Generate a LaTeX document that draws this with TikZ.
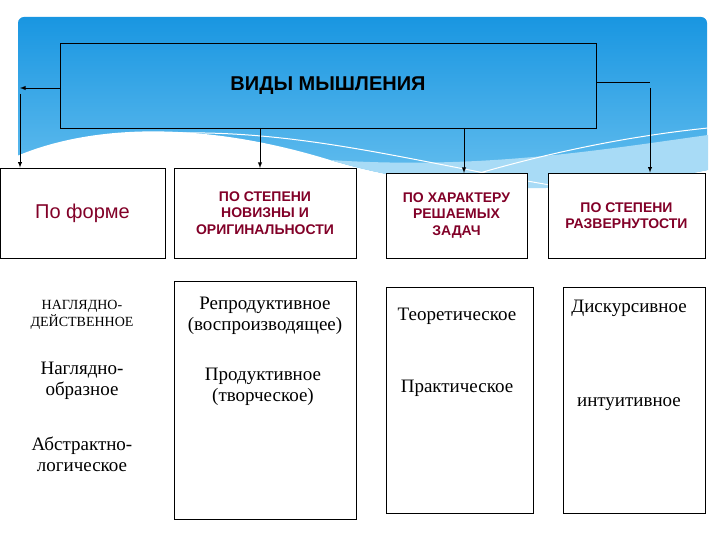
\documentclass[tikz,border=0pt]{standalone}
\usepackage{fontspec}
\setmainfont{Liberation Serif}
\newfontfamily\hsans{Liberation Sans}
\definecolor{skyA}{RGB}{25,150,225}
\definecolor{skyB}{RGB}{110,195,240}
\definecolor{dred}{RGB}{130,0,40}
\begin{document}
\begin{tikzpicture}[x=1pt,y=-1pt,
  box/.style={draw=black,line width=0.8pt,fill=white},
  head/.style={font=\hsans\bfseries\fontsize{14}{16.5}\selectfont,text=dred,align=center},
  lbl/.style={font=\fontsize{19}{21}\selectfont,align=center},
  arr/.style={-latex,line width=0.9pt}]
\useasboundingbox (0,0) rectangle (720,540);
\fill[white] (0,0) rectangle (720,540);
% blue banner
\shade[top color=skyA, bottom color=skyB, rounded corners=6pt]
  (18,205) -- (18,17) -- (707,17) -- (707,205) -- cycle;
\fill[white] (17,156) .. controls (90,125) and (200,120) .. (330,160)
  .. controls (430,190) and (560,200) .. (708,170) -- (708,206) -- (17,206) -- cycle;
\fill[skyB!60] (330,160) .. controls (430,190) and (560,200) .. (708,170) -- (708,135)
  .. controls (600,150) and (480,170) .. (330,160);
\draw[white,line width=1pt] (180,133) .. controls (350,130) and (500,190) .. (708,205);
\draw[white,line width=1pt] (440,185) .. controls (550,150) and (640,135) .. (708,128);
% title
\node[draw=black,line width=0.8pt,minimum width=536pt,minimum height=85pt,
  font=\hsans\bfseries\fontsize{20}{22}\selectfont] (t) at (328,85.5) {ВИДЫ МЫШЛЕНИЯ};
% heading boxes
\node[box,minimum width=165pt,minimum height=90pt,font=\hsans\fontsize{20}{22}\selectfont,text=dred] (b1) at (82.5,213) {По форме};
\node[box,minimum width=182pt,minimum height=90pt,head] (b2) at (265,213) {ПО СТЕПЕНИ\\НОВИЗНЫ И\\ОРИГИНАЛЬНОСТИ};
\node[box,minimum width=141pt,minimum height=85pt,head] (b3) at (456.5,215.5) {ПО ХАРАКТЕРУ\\РЕШАЕМЫХ\\ЗАДАЧ};
\node[box,minimum width=157pt,minimum height=85pt,head] (b4) at (626.5,215.5) {ПО СТЕПЕНИ\\РАЗВЕРНУТОСТИ};
% lower boxes
\node[box,minimum width=182pt,minimum height=238pt] (l2) at (265,400) {};
\node[box,minimum width=147pt,minimum height=226pt] (l3) at (459.5,400) {};
\node[box,minimum width=142pt,minimum height=226pt] (l4) at (634,400) {};
% texts
\node[lbl,font=\fontsize{14}{17}\selectfont] (a1) at (82,315) {НАГЛЯДНО-\\ДЕЙСТВЕННОЕ};
\node[lbl] (a2) at (82,381) {Наглядно-\\образное};
\node[lbl] (a3) at (82,454) {Абстрактно-\\логическое};
\node[lbl] (r1) at (265,316) {Репродуктивное\\(воспроизводящее)};
\node[lbl] (r2) at (263,387) {Продуктивное\\(творческое)};
\node[lbl] (p1) at (457,316) {Теоретическое};
\node[lbl] (p2) at (457,388) {Практическое};
\node[lbl] (d1) at (629,308) {Дискурсивное};
\node[lbl] (d2) at (629,404) {интуитивное};
% arrows
\coordinate (lc) at (20,88);
\coordinate (rc) at (650,82);
\draw[arr] (t.west |- lc) -- (lc);
\draw[arr] ([yshift=-6pt]lc) -- (lc |- b1.north);
\draw[arr] (260,128) -- (260,168);
\draw[arr] (464,128) -- (464,173);
\draw[line width=0.9pt] (t.east |- rc) -- (rc);
\draw[arr] ([yshift=-6pt]rc) -- (rc |- b4.north);
\end{tikzpicture}
\end{document}
